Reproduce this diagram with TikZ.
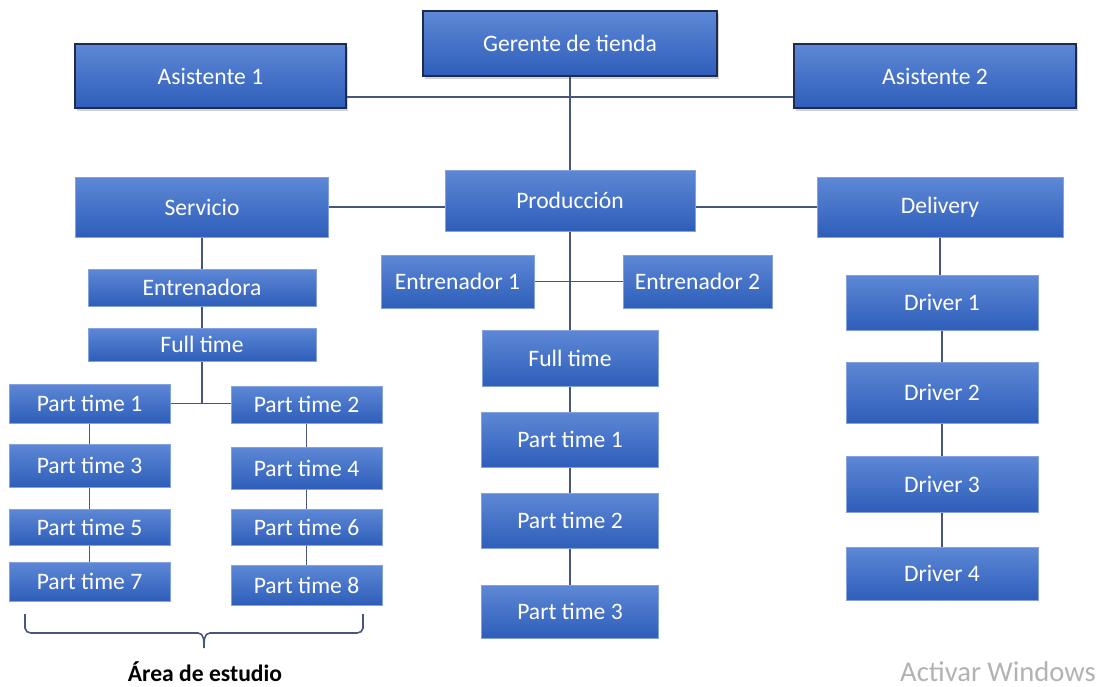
\documentclass[tikz,border=0pt]{standalone}
\usepackage{fontspec}
\setmainfont{Carlito}
\usetikzlibrary{shadows}

\definecolor{boxtop}{RGB}{94,136,214}
\definecolor{boxbot}{RGB}{46,94,186}
\definecolor{boxrim}{RGB}{132,162,222}
\definecolor{jefrim}{RGB}{30,42,78}
\definecolor{linecol}{RGB}{70,86,124}

\begin{document}
\begin{tikzpicture}[x=0.5pt,y=-0.5pt,
	puesto/.style={draw=boxrim, line width=0.5pt, top color=boxtop, bottom color=boxbot,
		text=white, inner sep=0pt, font=\fontsize{11.8}{14}\selectfont},
	jefe/.style={puesto, draw=jefrim, line width=0.8pt,
		drop shadow={shadow xshift=1.2pt, shadow yshift=-1.5pt, opacity=0.35}},
	enlace/.style={draw=linecol, line width=0.8pt}]
	\useasboundingbox (0,0) rectangle (1104,686);
	
	% cabeza
	\node[jefe, minimum width=147pt, minimum height=32.5pt] (ger) at (570,43.5) {Gerente de tienda};
	\node[jefe, minimum width=135.5pt, minimum height=32pt] (as1) at (210.5,76) {Asistente 1};
	\node[jefe, minimum width=141pt, minimum height=32pt] (as2) at (935,76) {Asistente 2};
	
	% areas
	\node[puesto, minimum width=126.5pt, minimum height=30pt] (serv) at (202,207) {Servicio};
	\node[puesto, minimum width=125pt, minimum height=30.5pt] (prod) at (570,200.5) {Producción};
	\node[puesto, minimum width=123pt, minimum height=30pt] (deli) at (940,207) {Delivery};
	
	% produccion
	\node[puesto, minimum width=76.5pt, minimum height=26.5pt] (ent1) at (457.5,281.5) {Entrenador 1};
	\node[puesto, minimum width=74.5pt, minimum height=26.5pt] (ent2) at (697.5,281.5) {Entrenador 2};
	\node[puesto, minimum width=88pt, minimum height=28pt] (ftp) at (570,358) {Full time};
	\foreach \n/\y/\h in {1/439.5/55, 2/520.5/55, 3/611.5/53}
		\node[puesto, minimum width=88.5pt, minimum height=\h*0.5pt] (ptp\n) at (570,\y) {Part time \n};
	
	% servicio
	\node[puesto, minimum width=114pt, minimum height=18.5pt] (entr) at (202,287.5) {Entrenadora};
	\node[puesto, minimum width=114pt, minimum height=16.5pt] (fts) at (202,344.5) {Full time};
	\foreach \n/\y/\h in {1/403.5/39, 3/465.5/43, 5/527/36, 7/581.5/39}
		\node[puesto, minimum width=80.5pt, minimum height=\h*0.5pt] (pts\n) at (89.5,\y) {Part time \n};
	\foreach \n/\y/\h in {2/404.5/37, 4/468/42, 6/527/36, 8/585/40}
		\node[puesto, minimum width=75.5pt, minimum height=\h*0.5pt] (pts\n) at (306.5,\y) {Part time \n};
	
	% delivery
	\foreach \n/\y/\h in {1/302.5/55, 2/392.5/61, 3/484/56, 4/573.5/53}
		\node[puesto, minimum width=96pt, minimum height=\h*0.5pt] (drv\n) at (942,\y) {Driver \n};
	
	% lineas
	\draw[enlace] (ger) -- (prod);
	\draw[enlace] ([yshift=-10.5pt]as1.east) -- ([yshift=-10.5pt]as1.east -| as2.west);
	\draw[enlace] (serv.east) -- (serv.east -| prod.west);
	\draw[enlace] (deli.west) -- (deli.west -| prod.east);
	\draw[enlace] (prod) -- (ftp);
	\draw[enlace] (ent1.east) -- (ent2.west);
	\draw[enlace] (ftp) -- (ptp1);
	\draw[enlace] (ptp1) -- (ptp2);
	\draw[enlace] (ptp2) -- (ptp3);
	\draw[enlace] (serv) -- (entr);
	\draw[enlace] (entr) -- (fts);
	\draw[enlace] (fts.south) -- (fts.south |- pts1.east);
	\draw[enlace] (pts1.east) -- (pts1.east -| pts2.west);
	\foreach \a/\b in {1/3, 3/5, 5/7, 2/4, 4/6, 6/8}
		\draw[enlace] (pts\a) -- (pts\b);
	\draw[enlace] (deli.south) -- (deli.south |- drv1.north);
	\foreach \a/\b in {1/2, 2/3, 3/4}
		\draw[enlace] (drv\a) -- (drv\b);
	
	% llave
	\coordinate (punta) at (204,648);
	\draw[enlace] (25,614) -- (25,628) to[out=-90,in=180] (31,633) -- (198,633)
		to[out=0,in=90] (punta) to[out=90,in=180] (210,633) -- (357,633)
		to[out=0,in=-90] (363,628) -- (363,614);
	\node[font=\fontsize{11.8}{14}\selectfont\bfseries] (area) at (205,672) {Área de estudio};
	
	\node[text=black!30, inner sep=0pt, font=\fontsize{14.3}{17}\selectfont] (win) at (998,672) {Activar Windows};
\end{tikzpicture}
\end{document}
